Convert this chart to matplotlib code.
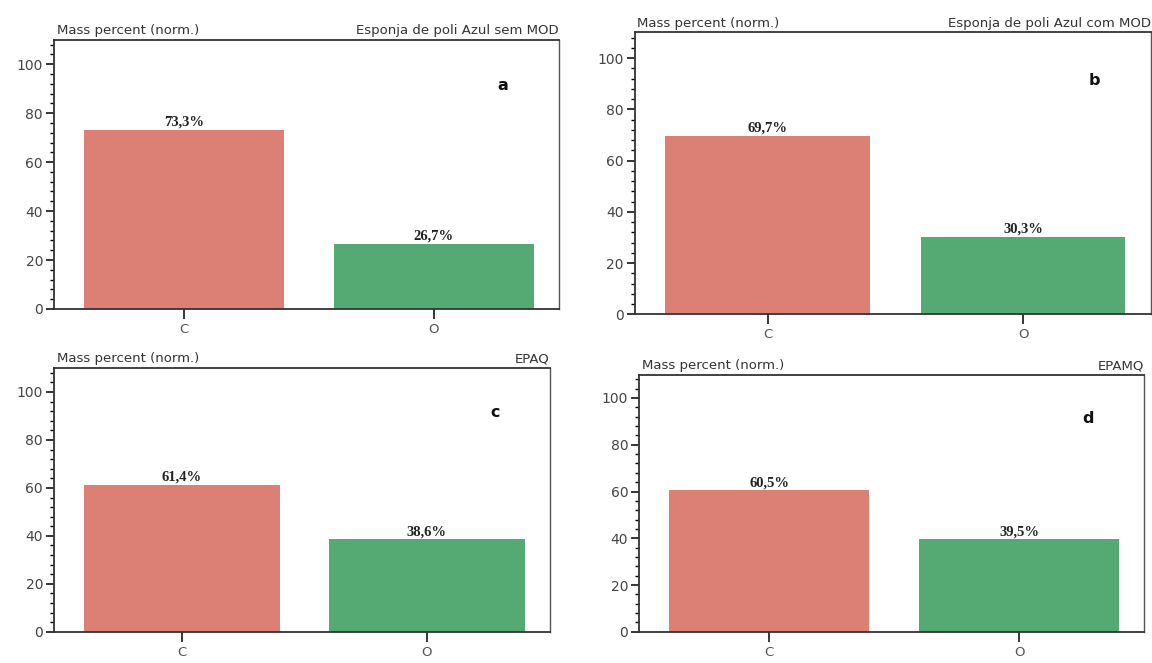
import matplotlib
matplotlib.use("Agg")
import matplotlib.pyplot as plt
from matplotlib.ticker import MultipleLocator

elements = ["C", "O"]
panel_letters = ["a", "b", "c", "d"]
panel_titles = [
    "Esponja de poli Azul sem MOD",
    "Esponja de poli Azul com MOD",
    "EPAQ",
    "EPAMQ",
]
mass_a = [73.3, 26.7]
mass_b = [69.7, 30.3]
mass_c = [61.4, 38.6]
mass_d = [60.5, 39.5]
value_labels = [
    ["73,3%", "26,7%"],
    ["69,7%", "30,3%"],
    ["61,4%", "38,6%"],
    ["60,5%", "39,5%"],
]
ylabel_text = "Mass percent (norm.)"

bar_colors = ["#dc8076", "#55aa74"]

fig = plt.figure(figsize=(11.52, 6.63), dpi=100)
fig.patch.set_facecolor("white")

rects = [
    [0.047, 0.534, 0.438, 0.406],
    [0.551, 0.526, 0.448, 0.425],
    [0.047, 0.047, 0.430, 0.398],
    [0.555, 0.047, 0.438, 0.388],
]
series = [mass_a, mass_b, mass_c, mass_d]

for rect, vals, labels, title, letter in zip(rects, series, value_labels,
                                             panel_titles, panel_letters):
    ax = fig.add_axes(rect)
    x = range(len(elements))
    ax.bar(x, vals, width=0.8, color=bar_colors, edgecolor="none", zorder=2)
    for xi, v, lab in zip(x, vals, labels):
        ax.text(xi, v + 0.4, lab, ha="center", va="bottom",
                fontfamily="Liberation Serif", fontweight="bold",
                fontsize=10.5, color="#222222", zorder=3)
    ax.set_xlim(-0.52, 1.5)
    ax.set_ylim(0, 110)
    ax.set_xticks(list(x))
    ax.set_xticklabels(elements, fontsize=9.5, color="#555555")
    ax.yaxis.set_major_locator(MultipleLocator(20))
    ax.yaxis.set_minor_locator(MultipleLocator(4))
    ax.tick_params(axis="y", which="major", length=6, width=1.1,
                   labelsize=10, labelcolor="#444444", pad=2)
    ax.tick_params(axis="y", which="minor", length=3, width=1.0)
    ax.tick_params(axis="x", which="major", length=7, width=1.1, pad=3)
    for side in ["left", "bottom", "top"]:
        ax.spines[side].set_linewidth(1.3)
        ax.spines[side].set_color("#333333")
    ax.spines["right"].set_linewidth(1.0)
    ax.spines["right"].set_color("#555555")
    ax.text(0.005, 1.01, ylabel_text, transform=ax.transAxes, ha="left",
            va="bottom", fontsize=9.5, color="#333333")
    ax.text(1.0, 1.01, title, transform=ax.transAxes, ha="right",
            va="bottom", fontsize=9.5, color="#333333")
    ax.text(0.89, 0.83, letter, transform=ax.transAxes, ha="center",
            va="center", fontsize=11.5, fontweight="bold", color="#111111")

fig.savefig("out.png", dpi=100, facecolor="white")
